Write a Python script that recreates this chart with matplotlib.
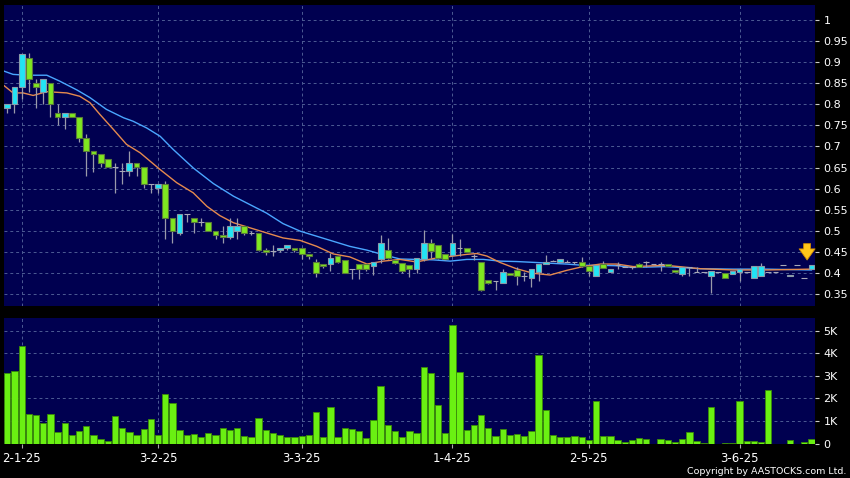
import matplotlib
matplotlib.use('Agg')
import matplotlib.pyplot as plt

# ---------------- data ----------------
opens = [0.792, 0.801, 0.842, 0.911, 0.850, 0.830, 0.850, 0.780, 0.770, 0.780,
         0.770, 0.721, 0.690, 0.681, 0.671, 0.652, 0.641, 0.641, 0.661, 0.652,
         0.612, 0.602, 0.612, 0.530, 0.495, 0.540, 0.530, 0.520, 0.520, 0.500,
         0.491, 0.485, 0.500, 0.511, 0.495, 0.495, 0.455, 0.451, 0.454, 0.459,
         0.459, 0.459, 0.446, 0.425, 0.420, 0.421, 0.439, 0.430, 0.409, 0.421,
         0.420, 0.416, 0.432, 0.455, 0.430, 0.424, 0.418, 0.410, 0.432, 0.470,
         0.466, 0.444, 0.442, 0.458, 0.460, 0.440, 0.427, 0.383, 0.381, 0.377,
         0.399, 0.406, 0.392, 0.387, 0.401, 0.422, 0.429, 0.427, 0.427, 0.425,
         0.427, 0.417, 0.392, 0.422, 0.401, 0.418, 0.415, 0.413, 0.422, 0.425,
         0.421, 0.421, 0.422, 0.406, 0.397, 0.415, 0.401, 0.401, 0.392, 0.401,
         0.399, 0.397, 0.403, 0.401, 0.387, 0.392, 0.401, 0.401, 0.418, 0.392,
         0.418, 0.387, 0.410]
highs = [0.801, 0.842, 0.920, 0.921, 0.861, 0.860, 0.850, 0.801, 0.780, 0.780,
         0.770, 0.730, 0.690, 0.681, 0.671, 0.661, 0.661, 0.690, 0.661, 0.652,
         0.612, 0.612, 0.619, 0.530, 0.540, 0.540, 0.530, 0.530, 0.520, 0.500,
         0.511, 0.530, 0.530, 0.511, 0.500, 0.495, 0.460, 0.467, 0.460, 0.467,
         0.460, 0.460, 0.446, 0.432, 0.420, 0.447, 0.440, 0.430, 0.409, 0.421,
         0.420, 0.426, 0.490, 0.482, 0.430, 0.424, 0.418, 0.435, 0.501, 0.481,
         0.466, 0.444, 0.493, 0.481, 0.460, 0.444, 0.427, 0.383, 0.381, 0.410,
         0.400, 0.413, 0.401, 0.410, 0.421, 0.442, 0.430, 0.432, 0.430, 0.427,
         0.438, 0.417, 0.419, 0.428, 0.409, 0.425, 0.417, 0.415, 0.424, 0.429,
         0.421, 0.425, 0.422, 0.406, 0.415, 0.415, 0.413, 0.401, 0.405, 0.401,
         0.399, 0.405, 0.410, 0.401, 0.417, 0.423, 0.401, 0.401, 0.418, 0.396,
         0.418, 0.387, 0.418]
lows = [0.780, 0.780, 0.812, 0.829, 0.792, 0.801, 0.770, 0.751, 0.742, 0.770,
        0.711, 0.629, 0.639, 0.651, 0.652, 0.590, 0.610, 0.629, 0.629, 0.602,
        0.590, 0.590, 0.481, 0.471, 0.491, 0.520, 0.495, 0.511, 0.500, 0.481,
        0.471, 0.481, 0.481, 0.491, 0.491, 0.452, 0.443, 0.440, 0.450, 0.455,
        0.450, 0.432, 0.432, 0.390, 0.412, 0.404, 0.424, 0.400, 0.386, 0.386,
        0.405, 0.394, 0.424, 0.432, 0.420, 0.400, 0.390, 0.399, 0.429, 0.436,
        0.433, 0.431, 0.440, 0.440, 0.450, 0.431, 0.356, 0.374, 0.360, 0.377,
        0.395, 0.371, 0.381, 0.366, 0.381, 0.422, 0.428, 0.427, 0.425, 0.421,
        0.415, 0.393, 0.392, 0.411, 0.401, 0.409, 0.413, 0.410, 0.415, 0.415,
        0.421, 0.405, 0.417, 0.401, 0.392, 0.392, 0.401, 0.401, 0.352, 0.401,
        0.387, 0.397, 0.381, 0.401, 0.387, 0.392, 0.401, 0.401, 0.418, 0.392,
        0.418, 0.387, 0.410]
closes = [0.801, 0.841, 0.920, 0.861, 0.842, 0.860, 0.801, 0.770, 0.780, 0.770,
          0.721, 0.690, 0.681, 0.661, 0.652, 0.652, 0.641, 0.661, 0.652, 0.612,
          0.612, 0.612, 0.530, 0.500, 0.540, 0.540, 0.520, 0.520, 0.500, 0.491,
          0.485, 0.511, 0.511, 0.495, 0.495, 0.455, 0.450, 0.451, 0.459, 0.466,
          0.454, 0.446, 0.440, 0.400, 0.416, 0.435, 0.426, 0.400, 0.409, 0.409,
          0.409, 0.426, 0.471, 0.435, 0.424, 0.404, 0.409, 0.435, 0.472, 0.452,
          0.435, 0.433, 0.472, 0.458, 0.450, 0.440, 0.360, 0.377, 0.381, 0.401,
          0.395, 0.392, 0.392, 0.410, 0.421, 0.427, 0.429, 0.432, 0.427, 0.425,
          0.417, 0.405, 0.419, 0.411, 0.409, 0.418, 0.415, 0.413, 0.415, 0.425,
          0.421, 0.421, 0.417, 0.401, 0.415, 0.415, 0.401, 0.401, 0.405, 0.401,
          0.387, 0.405, 0.410, 0.401, 0.417, 0.417, 0.401, 0.401, 0.418, 0.396,
          0.418, 0.387, 0.418]
volumes_k = [3.14, 3.23, 4.31, 1.31, 1.25, 0.90, 1.31, 0.50, 0.90, 0.37,
             0.58, 0.80, 0.37, 0.21, 0.13, 1.24, 0.71, 0.50, 0.40, 0.66,
             1.09, 0.40, 2.21, 1.81, 0.59, 0.37, 0.41, 0.29, 0.46, 0.40,
             0.68, 0.59, 0.68, 0.34, 0.28, 1.15, 0.59, 0.49, 0.37, 0.28,
             0.31, 0.34, 0.40, 1.39, 0.29, 1.64, 0.28, 0.71, 0.63, 0.55,
             0.24, 1.06, 2.57, 0.83, 0.56, 0.28, 0.55, 0.47, 3.40, 3.13,
             1.72, 0.47, 5.24, 3.16, 0.59, 0.82, 1.25, 0.68, 0.32, 0.63,
             0.38, 0.41, 0.34, 0.56, 3.91, 1.49, 0.38, 0.28, 0.29, 0.35,
             0.29, 0.16, 1.88, 0.35, 0.35, 0.15, 0.06, 0.15, 0.25, 0.21,
             0.00, 0.21, 0.16, 0.06, 0.21, 0.53, 0.10, 0.01, 1.62, 0.00,
             0.04, 0.04, 1.91, 0.13, 0.12, 0.07, 2.38, 0.00, 0.00, 0.15,
             0.00, 0.06, 0.21]

ma_short_x = [-0.5, 0.8, 2.2, 3.6, 5.5, 8.3, 10.1, 11.5, 12.9, 14.8, 16.6, 18.5,
              21.3, 23.6, 25.9, 27.8, 29.6, 31.5, 33.8, 36.1, 38.4, 40.8, 43.1,
              45.4, 47.7, 50.1, 52.4, 54.7, 57.0, 59.3, 61.7, 64.0, 65.4, 66.8,
              68.6, 70.9, 73.3, 75.6, 77.9, 80.2, 82.6, 84.9, 87.2, 91.8, 96.5,
              101.1, 105.8, 112]
ma_short = [0.845, 0.827, 0.827, 0.821, 0.830, 0.827, 0.819, 0.804, 0.776, 0.740,
            0.705, 0.685, 0.645, 0.614, 0.590, 0.558, 0.536, 0.519, 0.507, 0.495,
            0.483, 0.477, 0.463, 0.445, 0.438, 0.421, 0.428, 0.432, 0.426, 0.434,
            0.439, 0.444, 0.446, 0.440, 0.425, 0.410, 0.399, 0.395, 0.406, 0.415,
            0.421, 0.421, 0.415, 0.418, 0.410, 0.407, 0.407, 0.409]
ma_long_x = [-0.5, 0.8, 2.7, 5.5, 7.3, 9.7, 11.5, 13.8, 16.2, 17.5, 19.4, 21.3,
             23.1, 25.9, 28.7, 31.5, 33.8, 36.1, 38.4, 40.8, 43.1, 45.4, 47.7,
             50.1, 52.4, 54.7, 57.0, 59.3, 61.7, 64.0, 66.3, 68.6, 70.9, 73.3,
             75.6, 77.9, 80.2, 82.6, 84.9, 87.2, 91.8, 96.5, 101.1, 105.8, 112]
ma_long = [0.879, 0.871, 0.869, 0.869, 0.855, 0.834, 0.816, 0.788, 0.768, 0.760,
           0.744, 0.724, 0.693, 0.649, 0.612, 0.582, 0.562, 0.542, 0.517, 0.499,
           0.487, 0.475, 0.463, 0.454, 0.443, 0.433, 0.432, 0.431, 0.428, 0.432,
           0.432, 0.428, 0.427, 0.425, 0.423, 0.421, 0.418, 0.418, 0.417, 0.413,
           0.415, 0.410, 0.409, 0.409, 0.407]

date_pos = [2, 21, 41, 62, 81, 102]
date_labels = ['2-1-25', '3-2-25', '3-3-25', '1-4-25', '2-5-25', '3-6-25']
price_ticks = [0.35, 0.4, 0.45, 0.5, 0.55, 0.6, 0.65, 0.7, 0.75, 0.8, 0.85, 0.9, 0.95, 1.0]
price_tick_labels = ['0.35', '0.4', '0.45', '0.5', '0.55', '0.6', '0.65', '0.7',
                     '0.75', '0.8', '0.85', '0.9', '0.95', '1']
vol_ticks = [0, 1, 2, 3, 4, 5]
vol_tick_labels = ['0', '1K', '2K', '3K', '4K', '5K']

# ---------------- style ----------------
BG = '#000050'
GRID = '#4d5b94'
UP = '#22e4f4'
UP_EDGE = '#8a9aa8'
DOWN = '#7fe820'
DOWN_EDGE = '#5a7a3a'
WICK = '#9a9aaa'
DOJI = '#a8a8b8'

fig = plt.figure(figsize=(8.5, 4.78), dpi=100, facecolor='black')
W, H = 850.0, 478.0
ax1 = fig.add_axes([4 / W, 1 - 306 / H, 811 / W, 301 / H])
ax2 = fig.add_axes([4 / W, 1 - 444 / H, 811 / W, 126 / H])

n = len(closes)
xs = list(range(n))
xlim = (-0.46, 112.5)

for ax in (ax1, ax2):
    ax.set_facecolor(BG)
    ax.set_xlim(*xlim)
    for s in ax.spines.values():
        s.set_visible(False)
    ax.set_axisbelow(True)
    ax.grid(True, color=GRID, linestyle=(0, (3, 3)), linewidth=0.7)
    ax.yaxis.tick_right()
    ax.tick_params(axis='y', colors='#cccccc', labelcolor='white', length=3,
                   width=0.8, pad=3, labelsize=8)
    ax.set_xticks(date_pos)

# ---- price panel ----
ax1.set_ylim(0.3215, 1.0356)
ax1.set_yticks(price_ticks, price_tick_labels)
ax1.tick_params(axis='x', length=0, labelbottom=False)

ax1.plot(ma_long_x, ma_long, color='#4aa6ff', linewidth=1.0, zorder=2)
ax1.plot(ma_short_x, ma_short, color='#e58a4e', linewidth=1.0, zorder=2)

ax1.vlines(xs, lows, highs, color=WICK, linewidth=0.9, zorder=3)
bottoms, heights, faces, edges = [], [], [], []
for o, c in zip(opens, closes):
    bottoms.append(min(o, c))
    heights.append(abs(c - o))
    if c > o:
        faces.append(UP); edges.append(UP_EDGE)
    elif c < o:
        faces.append(DOWN); edges.append(DOWN_EDGE)
    else:
        faces.append(DOJI); edges.append(DOJI)
ax1.bar(xs, heights, bottom=bottoms, width=0.8, color=faces, edgecolor=edges,
        linewidth=0.8, zorder=4)

# arrow marking the latest candle
ax1.annotate('', xy=(xs[-1] - 0.6, 0.424), xytext=(xs[-1] - 0.6, 0.476),
             arrowprops=dict(arrowstyle='simple,head_length=0.8,head_width=1.15,tail_width=0.5',
                             fc='#ffc61a', ec='#d08a00', lw=0.6), zorder=6)

# ---- volume panel ----
ax2.set_ylim(-0.013, 5.56)
ax2.set_yticks(vol_ticks, vol_tick_labels)
ax2.bar(xs, volumes_k, width=0.88, color='#6af012', edgecolor='#3a8a08',
        linewidth=0.6, zorder=3)
ax2.set_xticks(date_pos, date_labels)
ax2.tick_params(axis='x', colors='#aaaaaa', labelcolor='white', length=3,
                width=0.8, pad=3, labelsize=8.5)

fig.text(846 / W, 1 - 471.5 / H, 'Copyright by AASTOCKS.com Ltd.', color='white',
         fontsize=6.8, ha='right', va='center')

fig.savefig('out.png', dpi=100, facecolor='black')
